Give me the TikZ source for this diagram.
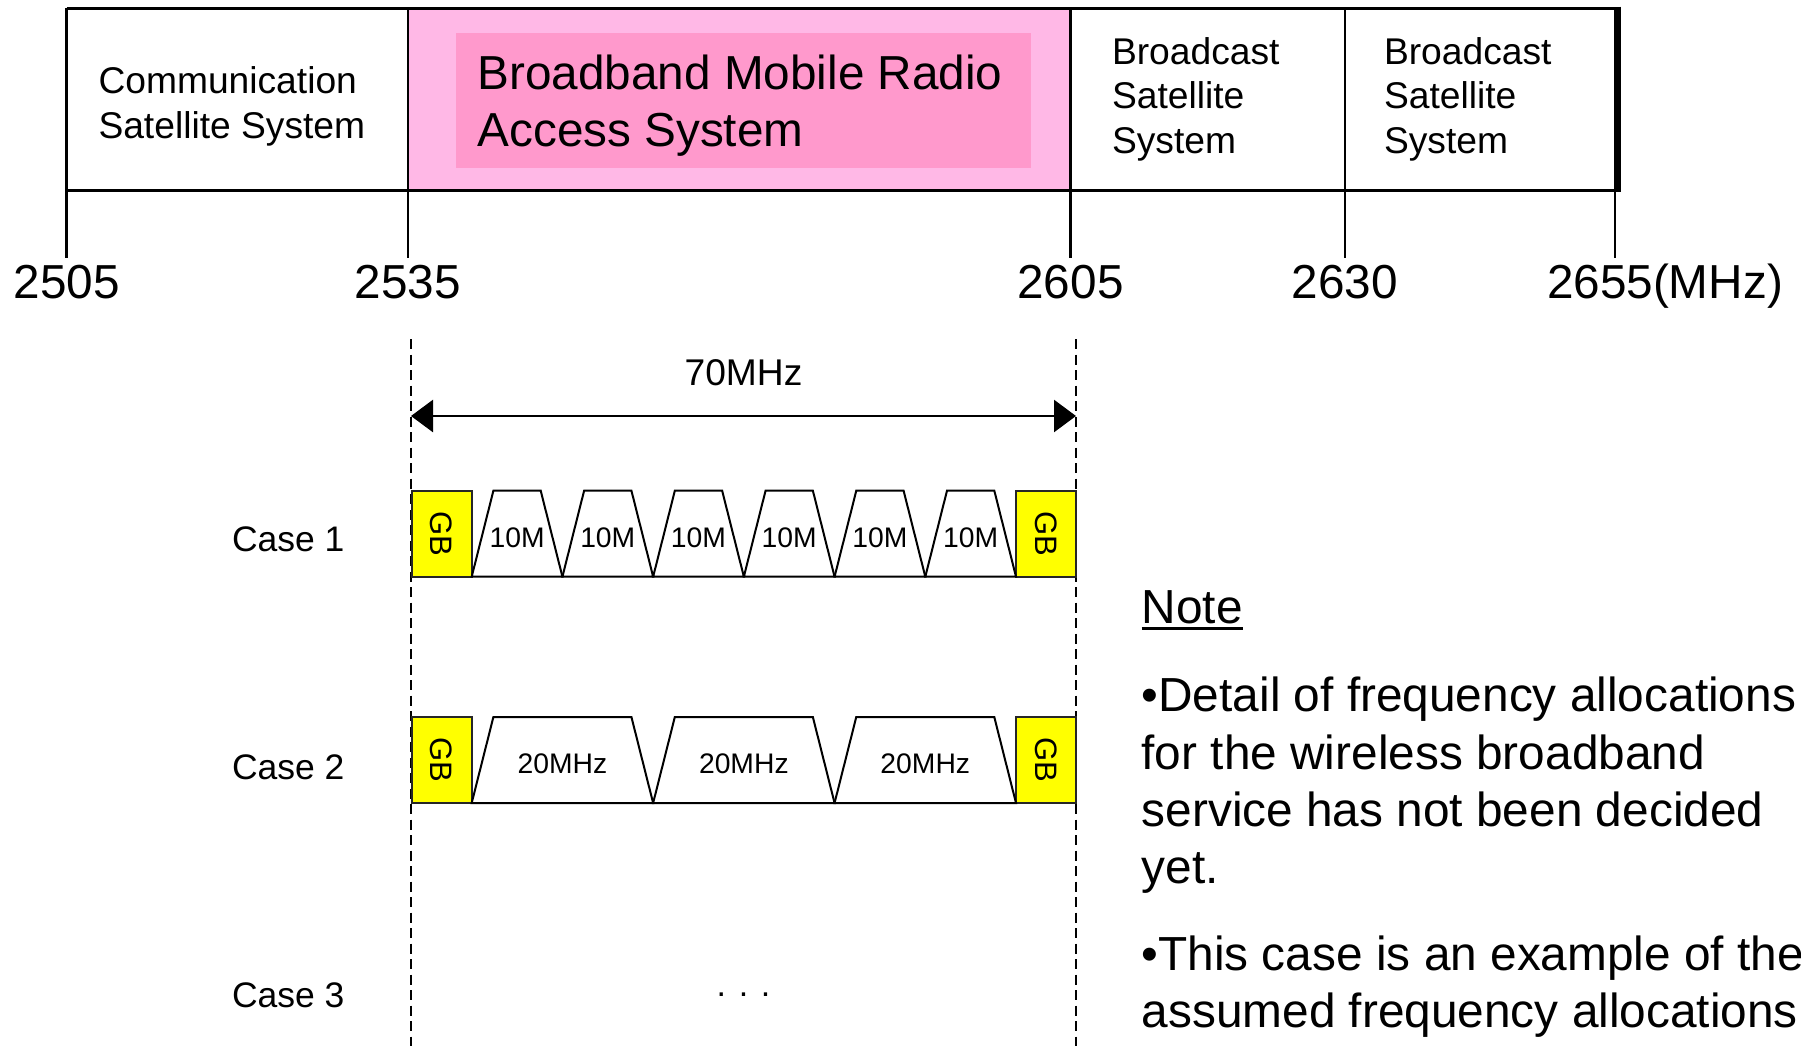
\documentclass[tikz,border=0pt]{standalone}
\usepackage{fontspec}
\setmainfont{Liberation Sans}
\usetikzlibrary{arrows.meta,calc}
\definecolor{bandpink}{HTML}{FFB8E6}
\definecolor{titlepink}{HTML}{FF99CC}
\definecolor{guardyellow}{HTML}{FFFF00}
\newcommand\fsz[2]{\fontsize{#1}{#2}\selectfont}
\begin{document}
\begin{tikzpicture}[x=0.5pt,y=-0.5pt,
  lbl/.style={inner sep=0pt,outer sep=0pt,anchor=base west},
  ctr/.style={inner sep=0pt,outer sep=0pt,anchor=base},
  tickline/.style={line width=1.2pt,black},
  guide/.style={line width=1.2pt,black,dash pattern=on 5pt off 2.75pt},
  span/.style={line width=1.3pt,black,{Triangle[length=11pt,width=16pt]}-{Triangle[length=11pt,width=16pt]}},
  chan/.style={line width=1pt,black,fill=white,line join=miter},
  guard/.style={draw=black!85,line width=1pt,fill=guardyellow,rotate=-90,
    minimum width=43pt,minimum height=30.1pt,inner sep=0pt,font=\fsz{15.5pt}{18pt}},
  sysfont/.style={font=\fsz{18.6pt}{22.4pt}},
  freqfont/.style={font=\fsz{23.85pt}{28pt}},
  chanfont/.style={font=\fsz{14.15pt}{17pt}},
  casefont/.style={font=\fsz{17.75pt}{21pt}},
  notefont/.style={font=\fsz{23.9pt}{28.7pt}}
]
\useasboundingbox (0,0) rectangle (1801,1046);
\fill[white] (0,0) rectangle (1801,1046);

% ---- frequency band bar ----
\fill[bandpink] (407.8,8.3) rectangle (1070.5,190);
\fill[titlepink] (456,33.3) rectangle (1031,167.7);
\draw[line width=1.75pt] (66.6,8.3) -- (1617.5,8.3);
\draw[line width=1.5pt] (66.6,190) -- (1617.5,190);
\foreach \x in {66.6,407.8,1070.5,1345}
  \draw[tickline] (\x,8.3) -- (\x,258.3);
\draw[line width=3.5pt] (1617.5,6.5) -- (1617.5,191.5);
\draw[tickline] (1615,190) -- (1615,258.3);

\node[lbl,sysfont] (css) at (98.5,93.3)
  {\vtop{\hbox{Communication}\hbox{Satellite System}}};
\node[lbl,font=\fsz{23.85pt}{28.7pt}] (bmra) at (477.5,89.3)
  {\vtop{\hbox{Broadband Mobile Radio}\hbox{Access System}}};
\node[lbl,font=\fsz{18.6pt}{22.2pt}] (bss1) at (1112,64.5)
  {\vtop{\hbox{Broadcast}\hbox{Satellite}\hbox{System}}};
\node[lbl,font=\fsz{18.6pt}{22.2pt}] (bss2) at (1384,64.5)
  {\vtop{\hbox{Broadcast}\hbox{Satellite}\hbox{System}}};

\node[ctr,freqfont] (f2505) at (66.6,298.3) {2505};
\node[ctr,freqfont] (f2535) at (407.8,298.3) {2535};
\node[ctr,freqfont] (f2605) at (1070.5,298.3) {2605};
\node[ctr,freqfont] (f2630) at (1345,298.3) {2630};
\node[lbl,freqfont] (f2655) at (1547,298.3) {2655(MHz)};

% ---- 70 MHz block limits ----
\coordinate (gLt) at (411,339);
\coordinate (gLb) at (411,1046);
\coordinate (gRt) at (1076,339);
\coordinate (gRb) at (1076,1046);
\draw[guide] (gLt) -- (gLb);
\draw[guide] (gRt) -- (gRb);

\coordinate (sL) at (411,416);
\coordinate (sR) at (1076,416);
\draw[span] (sL) -- (sR);
\node[ctr,sysfont] (bw) at (743.5,385) {70MHz};

% ---- Case 1: six 10 MHz channels ----
\node[guard] (gb1l) at (441.6,533.7) {GB};
\node[guard] (gb1r) at (1046.25,533.7) {GB};
\foreach \i in {0,...,5}{
  \pgfmathsetmacro\xl{471.7+90.72*\i}
  \pgfmathsetmacro\xr{\xl+90.72}
  \draw[chan] (\xl,576.7) -- (\xl+21.7,490.7) -- (\xr-21.7,490.7) -- (\xr,576.7) -- cycle;
  \node[ctr,chanfont] (ca\i) at ({(\xl+\xr)/2},547.5) {10M};
}

% ---- Case 2: three 20 MHz channels ----
\node[guard] (gb2l) at (441.6,760) {GB};
\node[guard] (gb2r) at (1046.25,760) {GB};
\foreach \i in {0,...,2}{
  \pgfmathsetmacro\xl{471.7+181.43*\i}
  \pgfmathsetmacro\xr{\xl+181.43}
  \draw[chan] (\xl,803) -- (\xl+21.7,717) -- (\xr-21.7,717) -- (\xr,803) -- cycle;
  \node[ctr,chanfont] (cb\i) at ({(\xl+\xr)/2},773.3) {20MHz};
}

% ---- case labels ----
\node[lbl,casefont] (case1) at (232,551.7) {Case 1};
\node[lbl,casefont] (case2) at (232,779) {Case 2};
\node[lbl,casefont] (case3) at (232,1007) {Case 3};
\node[ctr,font=\fsz{17pt}{20pt}] (more) at (743.5,996) {. . .};

% ---- note ----
\node[lbl,notefont] (note) at (1141.7,623.5) {Note};
\draw[line width=1.2pt] ($(note.base west)+(0,5)$) -- ($(note.base east)+(0,5)$);
\node[lbl,notefont] (n1) at (1141.7,711.6)
  {\vtop{\hbox{•Detail of frequency allocations}\hbox{for the wireless broadband}%
         \hbox{service has not been decided}\hbox{yet.}}};
\node[lbl,notefont] (n2) at (1141.7,970.5)
  {\vtop{\hbox{•This case is an example of the}\hbox{assumed frequency allocations}}};
\end{tikzpicture}
\end{document}
